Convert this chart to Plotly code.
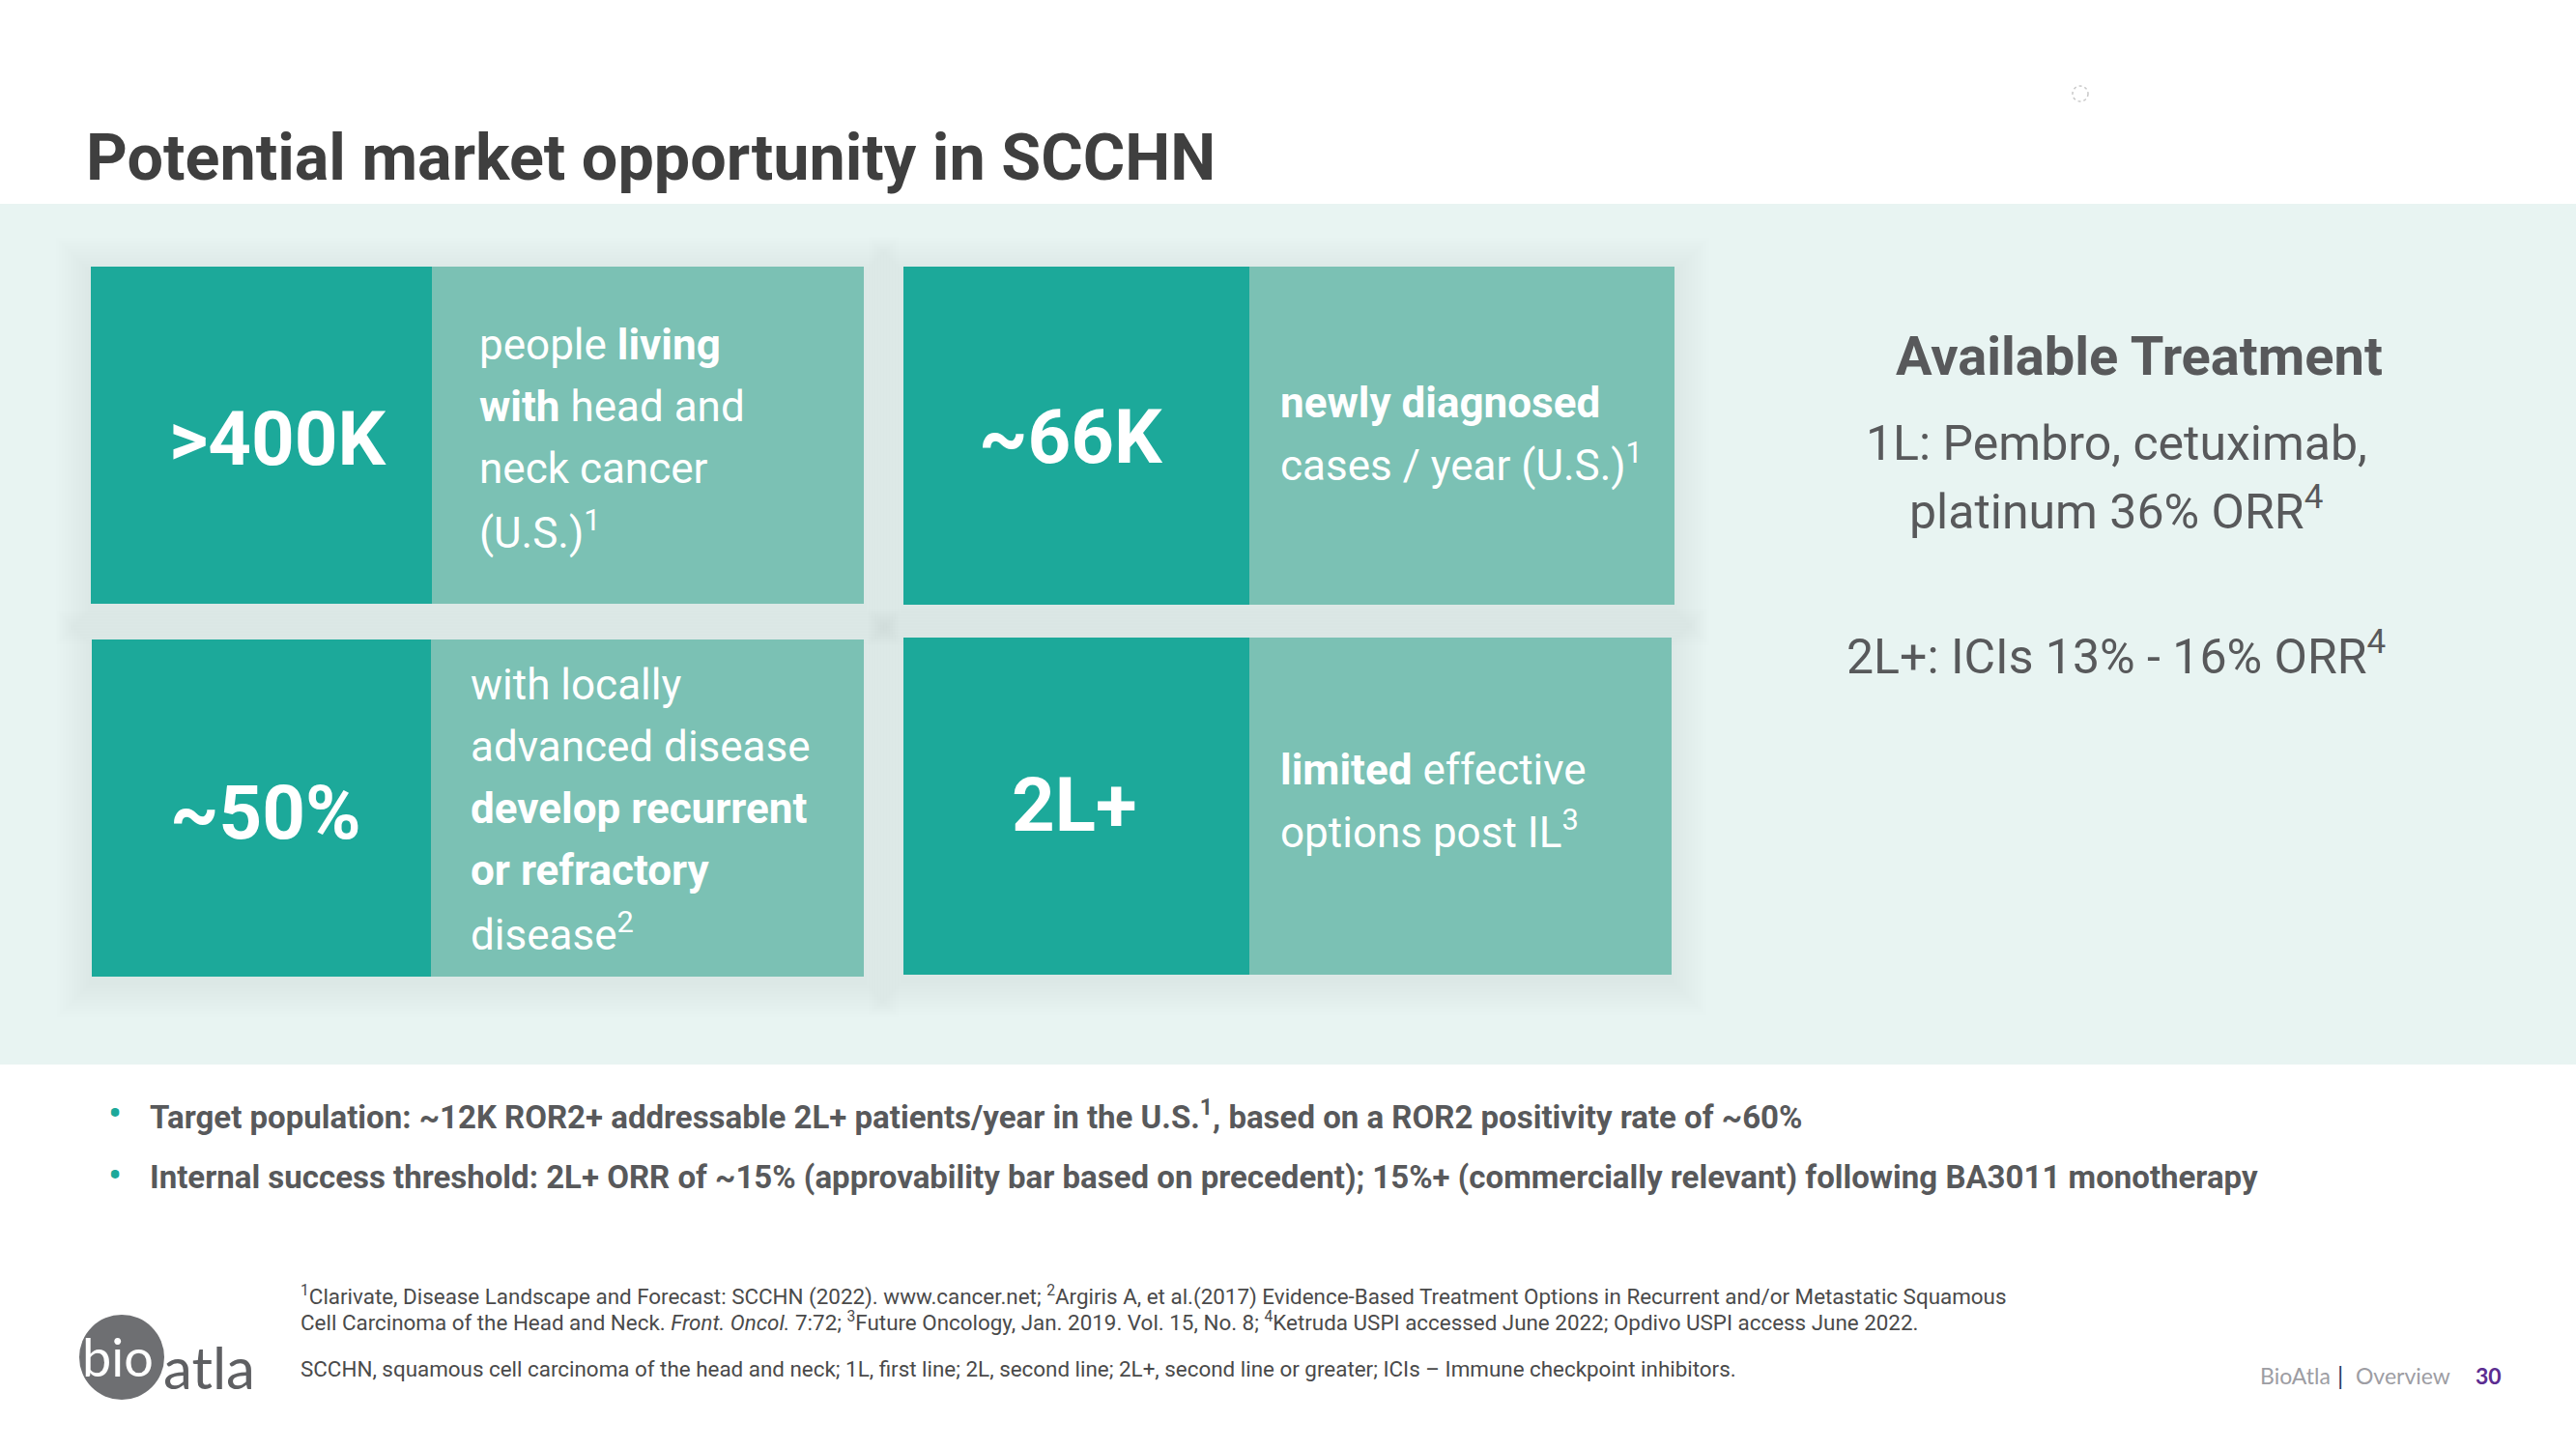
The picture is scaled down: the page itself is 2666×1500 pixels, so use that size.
import plotly.graph_objects as go

# ---------------- data ----------------
title_text = "Potential market opportunity in SCCHN"

tile_stats = [">400K", "~66K", "~50%", "2L+"]
tile_desc_lines = [
    ["people <b>living</b>", "<b>with</b> head and", "neck cancer", "(U.S.)<sup>1</sup>"],
    ["<b>newly diagnosed</b>", "cases / year (U.S.)<sup>1</sup>"],
    ["with locally", "advanced disease", "<b>develop recurrent</b>", "<b>or refractory</b>", "disease<sup>2</sup>"],
    ["<b>limited</b> effective", "options post IL<sup>3</sup>"],
]

treatment_title = "Available Treatment"
treatment_lines = [
    "1L: Pembro, cetuximab,",
    "platinum 36% ORR<sup>4</sup>",
    "2L+: ICIs 13% - 16% ORR<sup>4</sup>",
]

bullets = [
    "Target population: ~12K ROR2+ addressable 2L+ patients/year in the U.S.<sup>1</sup>, based on a ROR2 positivity rate of ~60%",
    "Internal success threshold: 2L+ ORR of ~15% (approvability bar based on precedent); 15%+ (commercially relevant) following BA3011 monotherapy",
]

footnotes = [
    "<sup>1</sup>Clarivate, Disease Landscape and Forecast: SCCHN (2022). www.cancer.net; <sup>2</sup>Argiris A, et al.(2017) Evidence-Based Treatment Options in Recurrent and/or Metastatic Squamous",
    "Cell Carcinoma of the Head and Neck. <i>Front. Oncol.</i> 7:72; <sup>3</sup>Future Oncology, Jan. 2019. Vol. 15, No. 8; <sup>4</sup>Ketruda USPI accessed June 2022; Opdivo USPI access June 2022.",
    "SCCHN, squamous cell carcinoma of the head and neck; 1L, first line; 2L, second line; 2L+, second line or greater; ICIs \u2013 Immune checkpoint inhibitors.",
]

footer_left = "BioAtla"
footer_mid = "Overview"
page_number = "30"

# ---------------- layout / style ----------------
W, H = 2666, 1500
DARK = "#1CA99A"
LIGHT = "#7BC1B4"
BAND = "#E8F4F2"
GRAY = "#58595B"
TITLE_GRAY = "#3F3F3F"
FONT = "Roboto"

# tile boxes: (x0, split, x1, y0, y1)
tile_boxes = [
    (94, 447, 894, 276, 625),
    (935, 1293, 1733, 276, 626),
    (95, 446, 894, 662, 1011),
    (935, 1293, 1730, 660, 1009),
]
stat_cx = [288, 1108, 275, 1111]
stat_baselines = [483, 481, 870, 862]
desc_x = [495, 1324, 486, 1324]
desc_first_baseline = [373, 433, 725, 813]
desc_spacing = [64, 62, 64, 62]

fig = go.Figure()
shapes = []
ann = []


def text(x, baseline, s, size, color, anchor="left", family=FONT, bold=False):
    f = dict(family=family, size=size, color=color)
    if bold:
        f["weight"] = "bold"
    ann.append(dict(x=x, y=baseline - 0.36 * size, xref="x", yref="y", text=s,
                    showarrow=False, xanchor=anchor, yanchor="middle", font=f,
                    borderpad=0))


def rect(x0, y0, x1, y1, color, opacity=1.0):
    shapes.append(dict(type="rect", xref="x", yref="y", x0=x0, y0=y0, x1=x1, y1=y1,
                       fillcolor=color, opacity=opacity, layer="below",
                       line=dict(width=0)))


# background band
rect(0, 211, W, 1102, BAND)

# soft shadows
for (x0, xs, x1, y0, y1) in tile_boxes:
    for e in range(3, 39, 3):
        rect(x0 - e, y0 - e + 6, x1 + e, y1 + e + 6, "rgba(0,0,0,1)", opacity=0.0055)

# tiles
for i, (x0, xs, x1, y0, y1) in enumerate(tile_boxes):
    rect(x0, y0, xs, y1, DARK)
    rect(xs, y0, x1, y1, LIGHT)
    text(stat_cx[i], stat_baselines[i], tile_stats[i], 78, "white", anchor="center", bold=True)
    for j, line in enumerate(tile_desc_lines[i]):
        text(desc_x[i], desc_first_baseline[i] + j * desc_spacing[i], line, 44, "white")

# title
text(88, 187, title_text, 66.5, TITLE_GRAY, bold=True)

# available treatment panel
text(2214, 389, treatment_title, 56, GRAY, anchor="center", bold=True)
treat_baselines = [477, 544, 694]
for line, b in zip(treatment_lines, treat_baselines):
    text(2190, b, line, 50, GRAY, anchor="center")

# bullets
bullet_baselines = [1166, 1230]
for line, b in zip(bullets, bullet_baselines):
    text(119, b + 2, "\u2022", 42, DARK, anchor="center")
    text(154, b, line, 33, GRAY, bold=True)

# footnotes
foot_baselines = [1349, 1376, 1425]
for line, b in zip(footnotes, foot_baselines):
    text(310, b, line, 22.4, "#4A4A4A")

# logo
shapes.append(dict(type="circle", xref="x", yref="y", x0=82, y0=1361, x1=170, y1=1449,
                   fillcolor="#6E6F72", line=dict(width=0), layer="below"))
text(122, 1424, "bio", 54, "white", anchor="center", family="Lato")
text(216, 1437, "atla", 60, "#5E5F62", anchor="center", family="Lato")

# page footer
text(2338, 1432, footer_left, 23, "#9D9DA3", family="Lato")
text(2422, 1433, "|", 25, "#1F3A5F", anchor="center", family="Lato")
text(2437, 1432, footer_mid, 23, "#9D9DA3", family="Lato")
text(2561, 1432, page_number, 23, "#5C2D91", family="Lato", bold=True)

# small loading icon
shapes.append(dict(type="circle", xref="x", yref="y", x0=2145, y0=89, x1=2161, y1=105,
                   line=dict(color="#C8C8C8", width=1.5, dash="dot"), fillcolor="rgba(0,0,0,0)"))

fig.update_layout(
    width=W, height=H,
    margin=dict(l=0, r=0, t=0, b=0),
    paper_bgcolor="white", plot_bgcolor="white",
    xaxis=dict(range=[0, W], visible=False, fixedrange=True),
    yaxis=dict(range=[H, 0], visible=False, fixedrange=True),
    shapes=shapes, annotations=ann, showlegend=False,
)
fig.write_html("out.html",
               config={"displayModeBar": False},
               post_script="document.body.style.margin='0px';document.body.style.overflow='hidden';")
